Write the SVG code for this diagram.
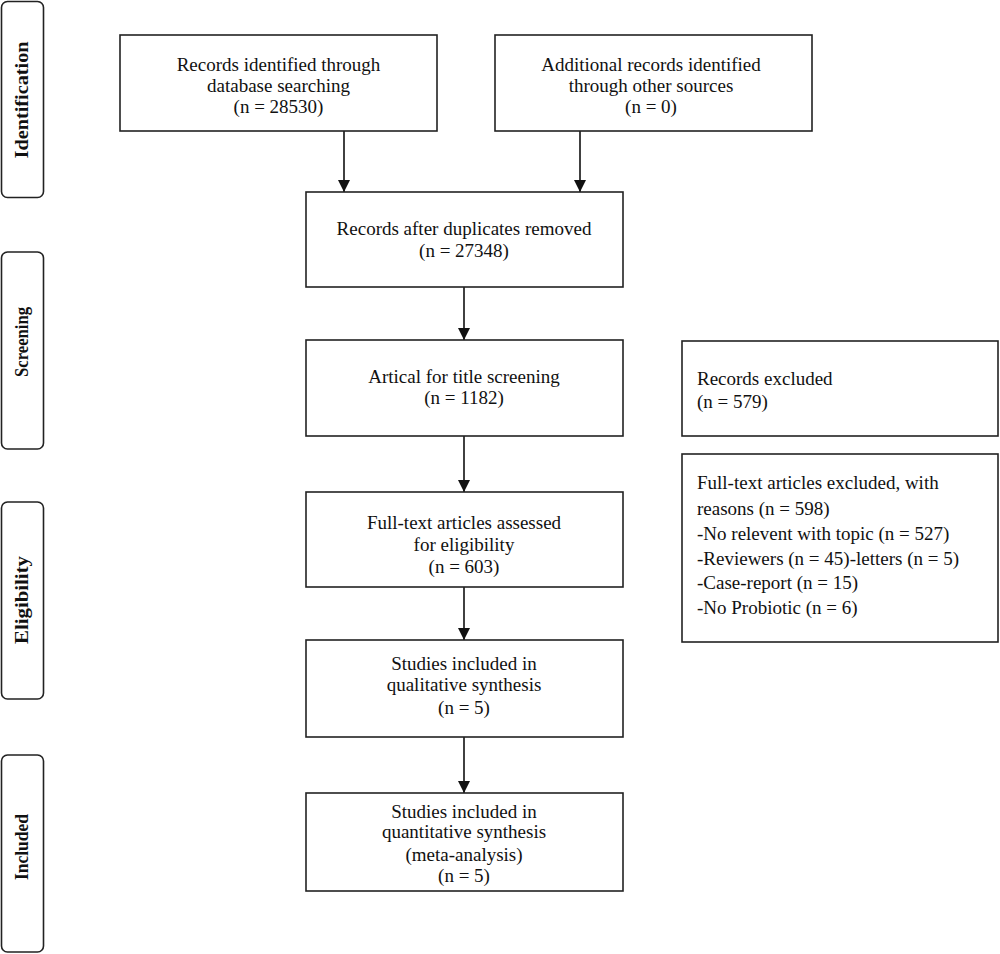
<svg xmlns="http://www.w3.org/2000/svg" width="1000" height="954" viewBox="0 0 1000 954">
<style>
.box{fill:#fff;stroke:#222;stroke-width:1.6}
.side{fill:#fff;stroke:#222;stroke-width:1.6}
.t{font-family:"Liberation Serif","Times New Roman",serif;font-size:19px;fill:#111;text-anchor:middle}
.tl{font-family:"Liberation Serif","Times New Roman",serif;font-size:19px;fill:#111}
.s{font-family:"Liberation Serif","Times New Roman",serif;font-size:19px;font-weight:bold;fill:#111;text-anchor:middle}
.c{stroke:#111;stroke-width:1.6;fill:none;marker-end:url(#ah)}
</style>
<defs>
<marker id="ah" viewBox="0 0 12 12" refX="12" refY="6" markerWidth="12" markerHeight="12" markerUnits="userSpaceOnUse" orient="auto">
<path d="M0,0 L12,6 L0,12 z" fill="#111"/>
</marker>
</defs>
<rect width="1000" height="954" fill="#fff"/>
<g id="side-identification">
<rect class="side" x="1.5" y="1.5" width="42" height="196" rx="6"/>
<text class="s" transform="translate(28,100) rotate(-90)" textLength="117" lengthAdjust="spacingAndGlyphs">Identification</text>
</g>
<g id="side-screening">
<rect class="side" x="1.5" y="252" width="42" height="197" rx="6"/>
<text class="s" transform="translate(28,342) rotate(-90)" textLength="70" lengthAdjust="spacingAndGlyphs">Screening</text>
</g>
<g id="side-eligibility">
<rect class="side" x="1.5" y="502" width="42" height="197" rx="6"/>
<text class="s" transform="translate(28,600) rotate(-90)" textLength="88" lengthAdjust="spacingAndGlyphs">Eligibility</text>
</g>
<g id="side-included">
<rect class="side" x="1.5" y="755" width="42" height="197" rx="6"/>
<text class="s" transform="translate(28,847) rotate(-90)" textLength="66" lengthAdjust="spacingAndGlyphs">Included</text>
</g>
<g id="connectors">
<line class="c" x1="344" y1="131" x2="344" y2="192"/>
<line class="c" x1="580" y1="131" x2="580" y2="192"/>
<line class="c" x1="464" y1="287" x2="464" y2="340"/>
<line class="c" x1="464" y1="436" x2="464" y2="492"/>
<line class="c" x1="464" y1="587" x2="464" y2="640"/>
<line class="c" x1="464" y1="737" x2="464" y2="793"/>
</g>
<g id="box-database">
<rect class="box" x="120" y="35" width="317" height="96"/>
<text class="t" x="278.5" y="71">Records identified through</text>
<text class="t" x="278.5" y="92">database searching</text>
<text class="t" x="278.5" y="113">(n = 28530)</text>
</g>
<g id="box-other">
<rect class="box" x="495" y="35" width="317" height="96"/>
<text class="t" x="651" y="71">Additional records identified</text>
<text class="t" x="651" y="92">through other sources</text>
<text class="t" x="651" y="113">(n = 0)</text>
</g>
<g id="box-duplicates">
<rect class="box" x="306" y="192" width="317" height="95"/>
<text class="t" x="464" y="235">Records after duplicates removed</text>
<text class="t" x="464" y="257">(n = 27348)</text>
</g>
<g id="box-title">
<rect class="box" x="306" y="340" width="317" height="96"/>
<text class="t" x="464" y="383">Artical for title screening</text>
<text class="t" x="464" y="404">(n = 1182)</text>
</g>
<g id="box-fulltext">
<rect class="box" x="306" y="492" width="317" height="95"/>
<text class="t" x="464" y="529">Full-text articles assessed</text>
<text class="t" x="464" y="551">for eligibility</text>
<text class="t" x="464" y="573">(n = 603)</text>
</g>
<g id="box-qualitative">
<rect class="box" x="306" y="640" width="317" height="97"/>
<text class="t" x="464" y="670">Studies included in</text>
<text class="t" x="464" y="691">qualitative synthesis</text>
<text class="t" x="464" y="714">(n = 5)</text>
</g>
<g id="box-quantitative">
<rect class="box" x="306" y="793" width="317" height="98"/>
<text class="t" x="464" y="818">Studies included in</text>
<text class="t" x="464" y="838">quantitative synthesis</text>
<text class="t" x="464" y="861">(meta-analysis)</text>
<text class="t" x="464" y="882">(n = 5)</text>
</g>
<g id="box-records-excluded">
<rect class="box" x="682" y="341" width="316" height="95"/>
<text class="tl" x="697" y="385">Records excluded</text>
<text class="tl" x="697" y="408">(n = 579)</text>
</g>
<g id="box-fulltext-excluded">
<rect class="box" x="682" y="454" width="316" height="188"/>
<text class="tl" x="697" y="489">Full-text articles excluded, with</text>
<text class="tl" x="697" y="515">reasons (n = 598)</text>
<text class="tl" x="697" y="540">-No relevent with topic (n = 527)</text>
<text class="tl" x="697" y="565">-Reviewers (n = 45)-letters (n = 5)</text>
<text class="tl" x="697" y="589">-Case-report (n = 15)</text>
<text class="tl" x="697" y="614">-No Probiotic (n = 6)</text>
</g>
</svg>
